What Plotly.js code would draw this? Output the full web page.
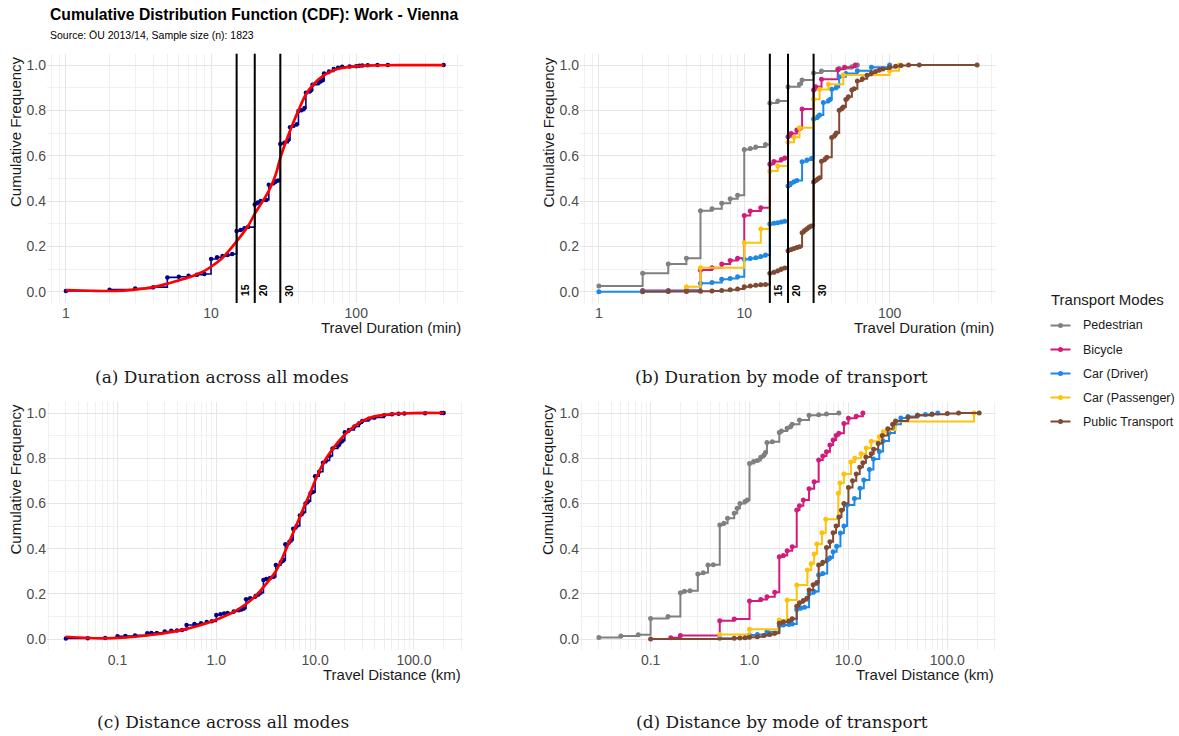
<!DOCTYPE html>
<html>
<head>
<meta charset="utf-8">
<script src="https://cdn.plot.ly/plotly-3.0.1.min.js"></script>
<style>
html, body { margin: 0; padding: 0; background: #ffffff; }
#chart { width: 1179px; height: 736px; }
</style>
</head>
<body>
<div id="chart"></div>
<script>
// ---------- Travel duration, all modes (ECDF) ----------
const durAllX = [1,2,3,4,5,6,7,8,9,10,11,12,13,14,15,16,17,18,20,21,22,24,25,27,28,29,30,32,34,35,37,39,40,42,44,45,48,49,50,55,57,59,60,65,70,75,80,90,100,105,110,120,140,165,400];
const durAllY = [0.003,0.009,0.014,0.02,0.063,0.066,0.07,0.075,0.078,0.144,0.152,0.157,0.162,0.166,0.268,0.272,0.28,0.285,0.385,0.393,0.4,0.405,0.472,0.48,0.487,0.49,0.652,0.657,0.669,0.726,0.732,0.739,0.797,0.8,0.81,0.878,0.884,0.89,0.913,0.922,0.928,0.934,0.963,0.972,0.982,0.988,0.992,0.994,0.995,0.997,0.998,0.999,1.0,1.0,1.0];
// smoothed curve over the duration ECDF
const durFitX = [1,1.5,2,2.5,3,4,5,6,7,8,9,10,12,15,18,20,25,28,30,35,40,45,50,60,70,80,100,120,150,200,400];
const durFitY = [0.007,0.004,0.003,0.005,0.009,0.02,0.035,0.05,0.063,0.077,0.092,0.11,0.15,0.222,0.29,0.343,0.445,0.52,0.59,0.71,0.8,0.87,0.91,0.955,0.977,0.987,0.994,0.997,0.999,1.0,1.0];

// ---------- Travel duration by mode ----------
const durPedX = [1,2,3,4,5,6,7,8,9,10,11,12,14,15,17,20,24,25,30,34,45,55,60];
const durPedY = [0.025,0.081,0.122,0.147,0.357,0.366,0.39,0.41,0.425,0.627,0.632,0.638,0.649,0.833,0.841,0.904,0.915,0.934,0.965,0.974,0.985,0.992,1.0];
const durBikeX = [2,3,4,5,6,7,8,9,10,11,13,15,16,18,19,20,21,23,24,25,30,31,34,44,49,58];
const durBikeY = [0.005,0.005,0.006,0.096,0.106,0.122,0.138,0.147,0.336,0.356,0.37,0.562,0.574,0.583,0.59,0.684,0.698,0.713,0.72,0.806,0.89,0.904,0.937,0.981,0.99,1.0];
const durCarDX = [1,2,3,4,5,6,7,8,9,10,11,12,13,14,15,16,17,18,19,20,21,22,23,25,27,29,30,32,33,35,38,39,40,43,45,50,60,75,100];
const durCarDY = [0.0,0.003,0.003,0.003,0.037,0.041,0.055,0.058,0.066,0.143,0.146,0.15,0.155,0.162,0.299,0.302,0.304,0.307,0.311,0.466,0.478,0.485,0.49,0.573,0.581,0.588,0.762,0.772,0.78,0.835,0.843,0.849,0.893,0.902,0.948,0.963,0.975,0.99,1.0];
const durCarPX = [4,5,10,13,15,17,20,22,24,30,33,38,48,100,116];
const durCarPY = [0.022,0.106,0.216,0.277,0.532,0.554,0.659,0.681,0.723,0.849,0.892,0.915,0.956,0.975,1.0];
const durPtX = [2,3,4,5,6,7,8,9,10,11,12,13,14,15,16,17,18,19,20,21,22,23,24,25,26,27,28,29,30,31,32,33,34,36,37,40,42,43,45,47,48,50,52,55,57,60,65,70,75,80,85,90,100,110,120,135,160,400];
const durPtY = [0.0,0.001,0.001,0.002,0.003,0.005,0.008,0.012,0.022,0.025,0.028,0.03,0.032,0.081,0.086,0.092,0.1,0.104,0.181,0.186,0.19,0.195,0.198,0.26,0.27,0.278,0.285,0.29,0.484,0.49,0.497,0.503,0.575,0.585,0.593,0.68,0.69,0.7,0.8,0.808,0.815,0.848,0.86,0.89,0.895,0.93,0.94,0.955,0.965,0.972,0.978,0.983,0.99,0.995,0.998,1.0,1.0,1.0];

// ---------- Travel distance, all modes (ECDF) ----------
const distAllX = [0.03,0.05,0.075,0.1,0.12,0.15,0.2,0.22,0.25,0.3,0.35,0.4,0.45,0.5,0.6,0.7,0.8,0.9,1.0,1.1,1.2,1.3,1.5,1.7,1.8,1.9,2.0,2.2,2.5,2.7,2.8,3.0,3.2,3.5,3.8,4.0,4.5,4.8,5.0,5.5,5.8,6.0,6.5,7.0,7.5,8.0,8.5,9.0,9.5,10,11,12,13,14,15,17,18,19,20,22,25,28,30,35,40,50,60,70,80,130,190,200];
const distAllY = [0.002,0.003,0.004,0.012,0.013,0.016,0.025,0.026,0.027,0.033,0.036,0.038,0.04,0.062,0.066,0.07,0.075,0.078,0.106,0.11,0.113,0.115,0.122,0.128,0.131,0.135,0.176,0.18,0.19,0.2,0.205,0.261,0.265,0.27,0.275,0.327,0.34,0.35,0.419,0.43,0.44,0.488,0.5,0.547,0.56,0.6,0.61,0.645,0.65,0.72,0.74,0.78,0.79,0.81,0.843,0.855,0.87,0.878,0.915,0.925,0.94,0.955,0.965,0.975,0.98,0.99,0.995,0.997,0.998,0.999,1.0,1.0];
const distFitX = [0.03,0.05,0.07,0.1,0.15,0.2,0.3,0.5,0.7,1.0,1.5,2.0,2.5,3.0,4.0,5.0,6.0,7.0,8.0,9.0,10,12,15,20,25,30,40,60,100,200];
const distFitY = [0.01,0.005,0.003,0.005,0.01,0.016,0.026,0.045,0.062,0.085,0.12,0.155,0.19,0.23,0.3,0.39,0.47,0.54,0.6,0.65,0.7,0.775,0.84,0.905,0.942,0.965,0.985,0.995,1.0,1.0];

// ---------- Travel distance by mode ----------
const distPedX = [0.03,0.05,0.075,0.1,0.15,0.2,0.22,0.25,0.3,0.34,0.38,0.43,0.5,0.55,0.6,0.7,0.75,0.8,0.9,0.95,1.0,1.1,1.2,1.3,1.4,1.45,1.5,1.7,2.0,2.1,2.4,2.6,2.7,3.2,4.0,5.0,6.0,8.0];
const distPedY = [0.007,0.013,0.019,0.091,0.1,0.205,0.211,0.214,0.288,0.293,0.327,0.328,0.504,0.512,0.534,0.556,0.578,0.6,0.608,0.615,0.777,0.785,0.79,0.804,0.814,0.825,0.869,0.873,0.914,0.92,0.932,0.94,0.95,0.969,0.99,0.992,0.996,1.0];
const distBikeX = [0.16,0.2,0.5,0.7,1.0,1.3,1.5,1.8,2.0,2.2,2.4,2.7,3.0,3.2,3.5,4.0,4.5,5.0,5.5,6.0,6.5,7.0,7.5,8.0,9.0,10.0,12.0,14.0];
const distBikeY = [0.005,0.015,0.081,0.088,0.168,0.175,0.187,0.207,0.364,0.37,0.39,0.408,0.571,0.59,0.615,0.665,0.696,0.792,0.81,0.829,0.858,0.88,0.9,0.91,0.954,0.977,0.986,1.0];
const distCarDX = [0.5,1.0,1.2,1.5,2.0,2.2,2.5,2.7,3.0,3.3,3.6,4.0,4.5,5.0,5.5,6.1,6.5,7.0,7.6,8.3,9.0,9.7,11.5,13.1,14.3,16.3,17.9,20.5,22.4,25.7,29.5,33.9,40,50,60,70,80];
const distCarDY = [0.003,0.018,0.02,0.032,0.059,0.062,0.064,0.066,0.131,0.137,0.14,0.2,0.21,0.283,0.29,0.35,0.36,0.386,0.41,0.469,0.5,0.593,0.622,0.667,0.704,0.75,0.796,0.83,0.876,0.912,0.95,0.978,0.985,0.99,0.993,0.996,1.0];
const distCarPX = [0.5,1.0,2.0,2.4,3.0,3.85,4.2,4.5,4.8,5.4,5.9,7.9,8.2,9.0,10.6,11.6,13.4,15.1,17.0,20.5,22.5,25,30,186];
const distCarPY = [0.02,0.043,0.084,0.173,0.239,0.305,0.333,0.376,0.42,0.47,0.53,0.645,0.69,0.73,0.783,0.8,0.82,0.845,0.875,0.895,0.917,0.925,0.962,1.0];
const distPtX = [0.1,0.7,0.8,0.9,1.0,1.2,1.4,1.6,1.8,2.0,2.2,2.5,2.7,3.0,3.2,3.5,3.8,4.0,4.4,4.8,5.0,5.5,6.0,6.5,7.0,7.5,8.0,8.5,9.0,10,11,12,13,14,15,17,18,20,22,25,28,30,40,50,70,100,130,210];
const distPtY = [0.0,0.003,0.004,0.005,0.008,0.01,0.015,0.02,0.025,0.07,0.075,0.08,0.09,0.145,0.16,0.17,0.18,0.217,0.24,0.25,0.327,0.34,0.405,0.43,0.47,0.5,0.54,0.57,0.6,0.67,0.7,0.73,0.76,0.78,0.805,0.82,0.84,0.865,0.9,0.93,0.95,0.965,0.98,0.99,0.995,0.998,1.0,1.0];

// ---------- Labels ----------
const modeNames = ['Pedestrian', 'Bicycle', 'Car (Driver)', 'Car (Passenger)', 'Public Transport'];
const modeColors = ['#808080', '#D01C7C', '#1E88E5', '#FFC20A', '#7F4A33'];
const thresholds = [15, 20, 30];
const yTicks = [0, 0.2, 0.4, 0.6, 0.8, 1.0];
const yTickText = ['0.0', '0.2', '0.4', '0.6', '0.8', '1.0'];
const durTicks = [1, 10, 100];
const durTickText = ['1', '10', '100'];
const distTicks = [0.1, 1, 10, 100];
const distTickText = ['0.1', '1.0', '10.0', '100.0'];
const captions = ['(a) Duration across all modes', '(b) Duration by mode of transport',
                  '(c) Distance across all modes', '(d) Distance by mode of transport'];

// ---------- Page geometry (pixels -> paper fractions) ----------
const W = 1179, H = 736;
const fx = p => p / W;
const fy = p => 1 - p / H;
const SANS = 'Liberation Sans, Arial, Helvetica, sans-serif';
const SERIF = 'DejaVu Serif, Georgia, serif';

// log-scale minor grid positions: digits 2..9 within each decade
function logMinor(fromExp, toExp) {
  const v = [];
  for (let e = fromExp; e <= toExp; e++) {
    for (let d = 2; d <= 9; d++) v.push(d * Math.pow(10, e));
  }
  return v;
}

function xAxis(domain, range, tickvals, ticktext, anchor, minorvals) {
  return {
    domain: domain, range: range, type: 'log', anchor: anchor,
    tickmode: 'array', tickvals: tickvals, ticktext: ticktext,
    ticks: '', showline: false, zeroline: false,
    showgrid: true, gridcolor: '#E6E6E6', gridwidth: 1,
    minor: { tickmode: 'array', tickvals: minorvals, showgrid: true, gridcolor: '#F0F0F0', gridwidth: 1, ticks: '' },
    tickfont: { family: SANS, size: 14, color: '#4D4D4D' },
    fixedrange: true
  };
}
function yAxis(domain, anchor) {
  return {
    domain: domain, range: [-0.05, 1.05], anchor: anchor,
    tickmode: 'array', tickvals: yTicks, ticktext: yTickText,
    ticks: '', showline: false, zeroline: false,
    showgrid: true, gridcolor: '#E6E6E6', gridwidth: 1,
    minor: { tickmode: 'array', tickvals: [0.1, 0.3, 0.5, 0.7, 0.9], showgrid: true, gridcolor: '#F0F0F0', gridwidth: 1, ticks: '' },
    tickfont: { family: SANS, size: 14, color: '#4D4D4D' },
    fixedrange: true
  };
}

function stepTrace(x, y, color, xa, ya, width, msize) {
  return {
    type: 'scatter', mode: 'lines+markers', x: x, y: y,
    xaxis: xa, yaxis: ya, showlegend: false,
    line: { shape: 'hv', color: color, width: width },
    marker: { color: color, size: msize },
    hoverinfo: 'skip'
  };
}
function fitTrace(x, y, xa, ya) {
  return {
    type: 'scatter', mode: 'lines', x: x, y: y, xaxis: xa, yaxis: ya,
    showlegend: false, line: { color: '#FF0000', width: 2.7, shape: 'spline', smoothing: 1 },
    hoverinfo: 'skip'
  };
}

const durModes = [[durPedX, durPedY], [durBikeX, durBikeY], [durCarDX, durCarDY], [durCarPX, durCarPY], [durPtX, durPtY]];
const distModes = [[distPedX, distPedY], [distBikeX, distBikeY], [distCarDX, distCarDY], [distCarPX, distCarPY], [distPtX, distPtY]];

const traces = [];
traces.push(stepTrace(durAllX, durAllY, '#00008B', 'x', 'y', 1.6, 4.5));
traces.push(fitTrace(durFitX, durFitY, 'x', 'y'));
durModes.forEach((m, i) => traces.push(stepTrace(m[0], m[1], modeColors[i], 'x2', 'y2', 2, 5)));
traces.push(stepTrace(distAllX, distAllY, '#00008B', 'x3', 'y3', 1.6, 4.5));
traces.push(fitTrace(distFitX, distFitY, 'x3', 'y3'));
distModes.forEach((m, i) => traces.push(stepTrace(m[0], m[1], modeColors[i], 'x4', 'y4', 2, 5)));

const colL = [fx(47), fx(462.5)];
const colR = [fx(580), fx(996)];
const rowT = [fy(303), fy(53.7)];
const rowB = [fy(650.3), fy(401.7)];
const durRange = [-0.13, 2.732];
const distRange = [-1.714, 2.492];

const shapes = [];
const annotations = [];
['x', 'x2'].forEach((xa, k) => {
  const ya = k === 0 ? 'y' : 'y2';
  thresholds.forEach(t => {
    shapes.push({ type: 'line', xref: xa, yref: ya + ' domain', x0: t, x1: t, y0: 0, y1: 1,
                  line: { color: '#000000', width: 2 }, layer: 'above' });
    annotations.push({ xref: xa, yref: ya, x: Math.log10(t), y: 0.005, text: '<b>' + t + '</b>',
                       showarrow: false, textangle: -90, xshift: 8, xanchor: 'center', yanchor: 'middle',
                       font: { family: SANS, size: 10.5, color: '#000000' } });
  });
});

function text(x, y, s, opts) {
  annotations.push(Object.assign({ xref: 'paper', yref: 'paper', x: fx(x), y: fy(y), text: s, showarrow: false,
                                   xanchor: 'left', yanchor: 'middle' }, opts));
}
// headings
text(48, 14, '<b>Cumulative Distribution Function (CDF): Work - Vienna</b>', { font: { family: SANS, size: 15.7, color: '#000000' } });
text(48, 35, 'Source: ÖU 2013/14, Sample size (n): 1823', { font: { family: SANS, size: 10.5, color: '#000000' } });
// axis titles (right / top aligned)
[[15, 54.5], [547.5, 54.5], [15, 402], [547.5, 402]].forEach(p => {
  text(p[0], p[1], 'Cumulative Frequency', { textangle: -90, xanchor: 'center', yanchor: 'top',
        font: { family: SANS, size: 15, color: '#1A1A1A' } });
});
text(462.5, 327, 'Travel Duration (min)', { xanchor: 'right', font: { family: SANS, size: 15, color: '#1A1A1A' } });
text(996, 327, 'Travel Duration (min)', { xanchor: 'right', font: { family: SANS, size: 15, color: '#1A1A1A' } });
text(462.5, 674, 'Travel Distance (km)', { xanchor: 'right', font: { family: SANS, size: 15, color: '#1A1A1A' } });
text(996, 674, 'Travel Distance (km)', { xanchor: 'right', font: { family: SANS, size: 15, color: '#1A1A1A' } });
// panel captions
[[93, 377], [633, 377], [95, 722], [634, 722]].forEach((p, i) => {
  text(p[0], p[1], captions[i], { font: { family: SERIF, size: 17, color: '#1A1A1A' } });
});

// legend for the transport modes (key line + dot, then label)
text(1049, 300, 'Transport Modes', { font: { family: SANS, size: 15, color: '#1A1A1A' } });
const legendRows = [325.5, 349.5, 373.5, 397.5, 421.5];
modeNames.forEach((name, i) => {
  const yy = legendRows[i];
  shapes.push({ type: 'line', xref: 'paper', yref: 'paper', x0: fx(1050.5), x1: fx(1070.5), y0: fy(yy), y1: fy(yy),
                line: { color: modeColors[i], width: 2 } });
  shapes.push({ type: 'circle', xref: 'paper', yref: 'paper', x0: fx(1058), x1: fx(1063), y0: fy(yy + 2.5), y1: fy(yy - 2.5),
                fillcolor: modeColors[i], line: { width: 0 } });
  text(1080.5, yy, name, { font: { family: SANS, size: 12.5, color: '#1A1A1A' } });
});

const layout = {
  width: W, height: H,
  margin: { l: 0, r: 0, t: 0, b: 0 },
  paper_bgcolor: '#ffffff', plot_bgcolor: '#ffffff',
  showlegend: false,
  xaxis: xAxis(colL, durRange, durTicks, durTickText, 'y', [0.8, 0.9].concat(logMinor(0, 2))),
  yaxis: yAxis(rowT, 'x'),
  xaxis2: xAxis(colR, durRange, durTicks, durTickText, 'y2', [0.8, 0.9].concat(logMinor(0, 2))),
  yaxis2: yAxis(rowT, 'x2'),
  xaxis3: xAxis(colL, distRange, distTicks, distTickText, 'y3', logMinor(-2, 2)),
  yaxis3: yAxis(rowB, 'x3'),
  xaxis4: xAxis(colR, distRange, distTicks, distTickText, 'y4', logMinor(-2, 2)),
  yaxis4: yAxis(rowB, 'x4'),
  shapes: shapes,
  annotations: annotations
};

Plotly.newPlot('chart', traces, layout, { staticPlot: true, displayModeBar: false });
</script>
</body>
</html>
